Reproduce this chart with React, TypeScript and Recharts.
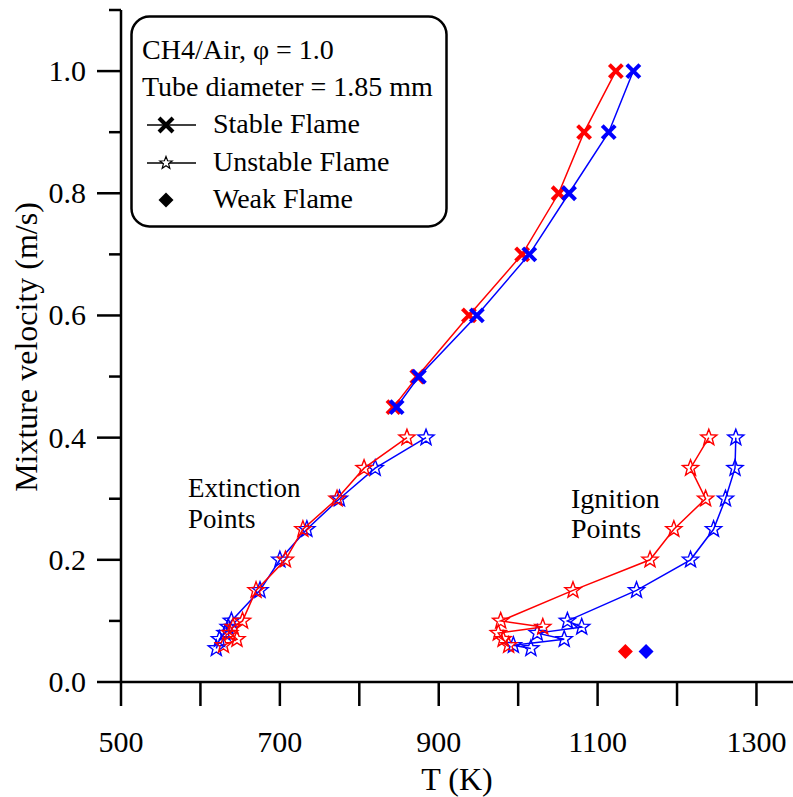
import { ScatterChart, Scatter, XAxis, YAxis } from 'recharts';

const FONT = '"Liberation Serif", "Times New Roman", serif';
const RED = '#ff0000';
const BLUE = '#0000ff';

// stable flame, T (K) vs mixture velocity (m/s)
const stableRed = [
  { t: 1123, v: 1.0 }, { t: 1083, v: 0.9 }, { t: 1051, v: 0.8 }, { t: 1005, v: 0.7 },
  { t: 938, v: 0.6 }, { t: 873, v: 0.5 }, { t: 843, v: 0.45 },
];
const stableBlue = [
  { t: 1145, v: 1.0 }, { t: 1114, v: 0.9 }, { t: 1064, v: 0.8 }, { t: 1014, v: 0.7 },
  { t: 948, v: 0.6 }, { t: 875, v: 0.5 }, { t: 847, v: 0.45 },
];

// unstable flame, extinction branch
const extinctionRed = [
  { t: 860, v: 0.4 }, { t: 806, v: 0.35 }, { t: 772, v: 0.3 }, { t: 729, v: 0.25 },
  { t: 707, v: 0.2 }, { t: 670, v: 0.15 }, { t: 653, v: 0.1 }, { t: 641, v: 0.09 },
  { t: 637, v: 0.08 }, { t: 646, v: 0.07 }, { t: 629, v: 0.06 },
];
const extinctionBlue = [
  { t: 884, v: 0.4 }, { t: 820, v: 0.35 }, { t: 775, v: 0.3 }, { t: 734, v: 0.25 },
  { t: 700, v: 0.2 }, { t: 675, v: 0.15 }, { t: 639, v: 0.1 }, { t: 635, v: 0.09 },
  { t: 631, v: 0.08 }, { t: 624, v: 0.07 }, { t: 620, v: 0.055 },
];

// unstable flame, ignition branch
const ignitionRed = [
  { t: 1240, v: 0.4 }, { t: 1217, v: 0.35 }, { t: 1236, v: 0.3 }, { t: 1196, v: 0.25 },
  { t: 1166, v: 0.2 }, { t: 1069, v: 0.15 }, { t: 978, v: 0.1 }, { t: 1031, v: 0.09 },
  { t: 975, v: 0.08 }, { t: 981, v: 0.07 }, { t: 988, v: 0.06 },
];
const ignitionBlue = [
  { t: 1274, v: 0.4 }, { t: 1273, v: 0.35 }, { t: 1261, v: 0.3 }, { t: 1246, v: 0.25 },
  { t: 1217, v: 0.2 }, { t: 1149, v: 0.15 }, { t: 1062, v: 0.1 }, { t: 1080, v: 0.09 },
  { t: 1024, v: 0.08 }, { t: 1058, v: 0.07 }, { t: 994, v: 0.06 }, { t: 1016, v: 0.055 },
];

// weak flame
const weakRed = [{ t: 1135, v: 0.05 }];
const weakBlue = [{ t: 1161, v: 0.05 }];

const xTicks = [500, 600, 700, 800, 900, 1000, 1100, 1200, 1300];
const yTicks = [0, 0.1, 0.2, 0.3, 0.4, 0.5, 0.6, 0.7, 0.8, 0.9, 1.0, 1.1];

const starPath = (cx: number, cy: number, r: number) => {
  const pts: string[] = [];
  for (let i = 0; i < 10; i++) {
    const rr = i % 2 === 0 ? r : r * 0.42;
    const a = -Math.PI / 2 + (i * Math.PI) / 5;
    pts.push(`${cx + rr * Math.cos(a)},${cy + rr * Math.sin(a)}`);
  }
  return `M${pts.join('L')}Z`;
};

const Cross = ({ cx, cy, color, s = 6.5, w = 4 }: any) => (
  <g stroke={color} strokeWidth={w}>
    <line x1={cx - s} y1={cy - s} x2={cx + s} y2={cy + s} />
    <line x1={cx - s} y1={cy + s} x2={cx + s} y2={cy - s} />
  </g>
);

const Star = ({ cx, cy, color, r = 8.5, w = 1.4 }: any) => (
  <path d={starPath(cx, cy, r)} fill="none" stroke={color} strokeWidth={w} />
);

const Diamond = ({ cx, cy, color, s = 7.5 }: any) => (
  <path d={`M${cx},${cy - s}L${cx + s},${cy}L${cx},${cy + s}L${cx - s},${cy}Z`} fill={color} />
);

const YTick = ({ x, y, payload }: any) => {
  const v = payload.value;
  const major = Math.round(v * 10) % 2 === 0;
  return (
    <g>
      <line x1={x - (major ? 24 : 12)} x2={x} y1={y} y2={y} stroke="#000" strokeWidth={2.5} />
      {major && (
        <text x={x - 35} y={y + 10} textAnchor="end" fontSize={30} fontFamily={FONT} fill="#000">
          {v.toFixed(1)}
        </text>
      )}
    </g>
  );
};

const XTick = ({ x, y, payload }: any) => {
  const v = payload.value;
  return (
    <g>
      <line x1={x} x2={x} y1={y} y2={y + 24} stroke="#000" strokeWidth={2.5} />
      {(v - 500) % 200 === 0 && (
        <text x={x} y={y + 70} textAnchor="middle" fontSize={30} fontFamily={FONT} fill="#000">
          {v}
        </text>
      )}
    </g>
  );
};

const series = [
  { data: stableRed, color: RED, kind: 'x' },
  { data: stableBlue, color: BLUE, kind: 'x' },
  { data: extinctionBlue, color: BLUE, kind: 'star' },
  { data: extinctionRed, color: RED, kind: 'star' },
  { data: ignitionBlue, color: BLUE, kind: 'star' },
  { data: ignitionRed, color: RED, kind: 'star' },
];

export default function App() {
  return (
    <div style={{ position: 'absolute', left: 0, top: 0, width: 793, height: 797, background: '#fff' }}>
      <ScatterChart width={793} height={797} margin={{ top: 10, right: 0, bottom: 0, left: 0 }}>
        <XAxis
          type="number"
          dataKey="t"
          domain={[500, 1346]}
          allowDataOverflow
          ticks={xTicks}
          tickSize={0}
          tickMargin={0}
          tickLine={false}
          tick={<XTick />}
          height={115}
          axisLine={{ stroke: '#000', strokeWidth: 2.5 }}
        />
        <YAxis
          type="number"
          dataKey="v"
          domain={[0, 1.1]}
          allowDataOverflow
          ticks={yTicks}
          tickSize={0}
          tickMargin={0}
          tickLine={false}
          tick={<YTick />}
          width={121}
          axisLine={{ stroke: '#000', strokeWidth: 2.5 }}
        />
        {series.map((s, i) => (
          <Scatter
            key={i}
            data={s.data}
            line={{ stroke: s.color, strokeWidth: 1.5 }}
            isAnimationActive={false}
            shape={(p: any) =>
              s.kind === 'x' ? <Cross cx={p.cx} cy={p.cy} color={s.color} /> : <Star cx={p.cx} cy={p.cy} color={s.color} />
            }
          />
        ))}
        <Scatter data={weakRed} isAnimationActive={false} shape={(p: any) => <Diamond cx={p.cx} cy={p.cy} color={RED} />} />
        <Scatter data={weakBlue} isAnimationActive={false} shape={(p: any) => <Diamond cx={p.cx} cy={p.cy} color={BLUE} />} />
      </ScatterChart>

      <svg width={793} height={797} style={{ position: 'absolute', left: 0, top: 0, pointerEvents: 'none' }} fontFamily={FONT}>
        {/* axis titles */}
        <text x={457} y={790} textAnchor="middle" fontSize={32}>T (K)</text>
        <text x={37} y={347} textAnchor="middle" fontSize={32} transform="rotate(-90, 37, 347)">
          Mixture velocity (m/s)
        </text>

        {/* annotations */}
        <text x={188} y={497} fontSize={27}>Extinction</text>
        <text x={188} y={528} fontSize={27}>Points</text>
        <text x={571} y={508} fontSize={28}>Ignition</text>
        <text x={571} y={538} fontSize={28}>Points</text>

        {/* legend box */}
        <rect x={131.5} y={16.5} width={315} height={210} rx={18} fill="#fff" stroke="#000" strokeWidth={2.5} />
        <text x={142} y={59} fontSize={28}>CH4/Air, φ = 1.0</text>
        <text x={142} y={96} fontSize={28}>Tube diameter = 1.85 mm</text>
        <line x1={147} x2={196} y1={125} y2={125} stroke="#000" strokeWidth={1.5} />
        <Cross cx={166} cy={125} color="#000" s={7} w={4} />
        <text x={213} y={133} fontSize={28}>Stable Flame</text>
        <line x1={147} x2={196} y1={163} y2={163} stroke="#000" strokeWidth={1.5} />
        <path d={starPath(166, 163, 6.5)} fill="#fff" stroke="#000" strokeWidth={1.2} />
        <text x={213} y={171} fontSize={28}>Unstable Flame</text>
        <Diamond cx={166} cy={200} color="#000" s={7.5} />
        <text x={213} y={208} fontSize={28}>Weak Flame</text>
      </svg>
    </div>
  );
}
